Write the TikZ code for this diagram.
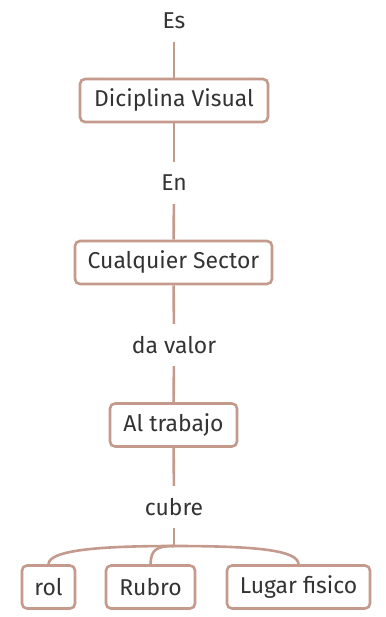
\documentclass[tikz,border=0pt]{standalone}
\usepackage{fontspec}
\setmainfont{Fira Sans}
\definecolor{edge}{HTML}{C49A8C}
\definecolor{txt}{HTML}{333333}
\begin{document}
\begin{tikzpicture}[x=1bp,y=-1bp,
  box/.style={draw=edge,line width=2.6bp,rounded corners=5bp,fill=white,text=txt,font=\fontsize{23}{26}\selectfont,inner sep=0pt,minimum height=43bp},
  lbl/.style={text=txt,font=\fontsize{23}{26}\selectfont,inner sep=0pt,minimum height=42bp},
  conn/.style={draw=edge,line width=2.6bp}]
\useasboundingbox (0,0) rectangle (385,617);
\node[lbl] (es) at (174,21) {Es};
\node[box,minimum width=188bp] (dv) at (174,100.5) {Diciplina Visual\hspace{12bp}};
\node[lbl] (en) at (174,183) {En};
\node[box,minimum width=197bp] (cs) at (173.5,262.5) {Cualquier Sector};
\node[lbl] (dav) at (174,345) {da valor};
\node[box,minimum width=127bp] (at) at (173.5,425) {Al trabajo};
\node[lbl] (cu) at (174,507) {cubre};
\coordinate (j) at (174,546);
\node[box,minimum width=53bp] (rol) at (48.5,587) {rol};
\node[box,minimum width=89bp] (ru) at (150.5,587) {Rubro};
\node[box,minimum width=143bp] (lf) at (298.5,587) {Lugar fisico};
\draw[conn] (es) -- (dv);
\draw[conn] (dv) -- (en);
\draw[conn] (en) -- (cs);
\draw[conn] (cs) -- (dav);
\draw[conn] (dav) -- (at);
\draw[conn] (at) -- (cu);
\draw[conn] (cu) -- (j);
\draw[conn] (j) .. controls (100,546) and (49,550) .. (rol.north);
\draw[conn] (j) .. controls (156,546) and (151,550) .. (ru.north);
\draw[conn] (j) .. controls (255,546) and (298,550) .. (lf.north);
\end{tikzpicture}
\end{document}
